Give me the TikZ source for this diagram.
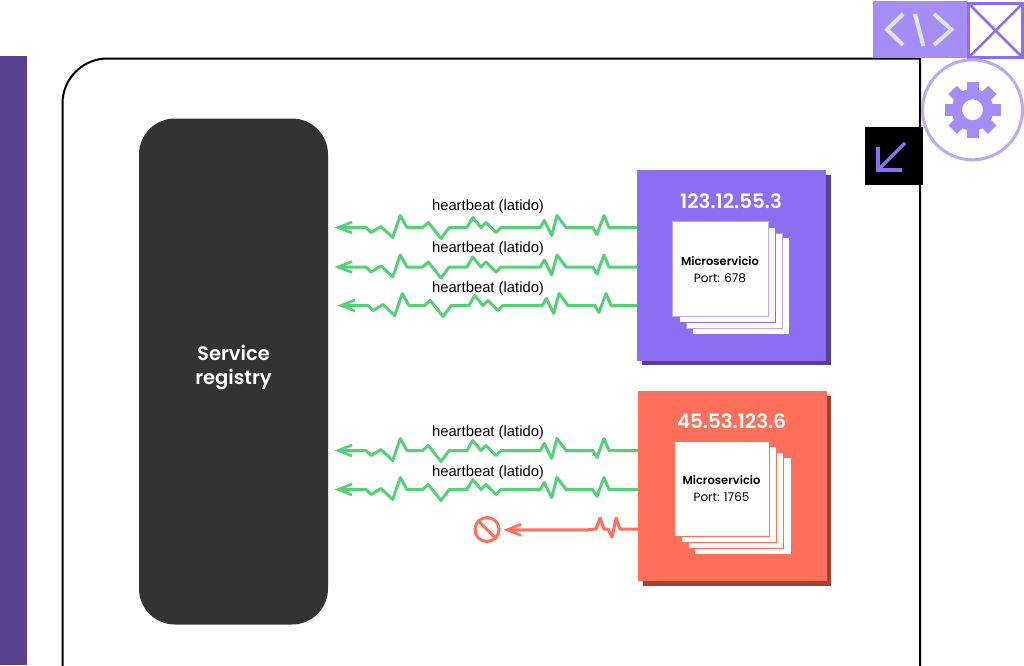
\documentclass[tikz,border=0pt]{standalone}
\usepackage{fontspec}
\setmainfont{Poppins}
\newfontfamily\hbfont{Liberation Sans}
\newfontfamily\semibf{Poppins SemiBold}
\newfontfamily\medf{Poppins Medium}
\usetikzlibrary{arrows.meta}
\definecolor{purpleA}{HTML}{8C6EF2}
\definecolor{purpleB}{HTML}{A58DF5}
\definecolor{purpleC}{HTML}{BBA9F7}
\definecolor{purpleD}{HTML}{56408F}
\definecolor{redA}{HTML}{FF6F59}
\definecolor{redD}{HTML}{9E4435}
\definecolor{greenA}{HTML}{55D077}
\definecolor{darkA}{HTML}{333333}
\definecolor{iconA}{HTML}{E3E1EA}
\tikzset{
  x=1pt,y=-1pt,
  box/.style={anchor=north west,inner sep=0pt,outer sep=0pt,minimum width=#1},
  hb/.style={draw=greenA,line width=3pt,line join=round,-{Straight Barb[length=14pt,width=11pt,line width=2.6pt]}},
  hblabel/.style={font=\hbfont\fontsize{14.8}{16}\selectfont,inner sep=0pt},
  iptext/.style={font=\semibf\fontsize{19.8}{22}\selectfont,text=white,inner sep=0pt},
  mstitle/.style={font=\semibf\fontsize{11.5}{13}\selectfont,text=black,inner sep=0pt},
  msport/.style={font=\fontsize{12}{13}\selectfont,text=black,inner sep=0pt},
  icon/.style={draw=iconA,line width=4pt,line join=miter},
}
\newcommand{\hbwave}[2]{%
  % #1 start coordinate, #2 tip coordinate
  \draw[hb] (#1) -- +(-29,0) -- +(-34,-12) -- +(-41,7) -- +(-45.3,0) -- +(-72,0) -- +(-81,-12)
   -- +(-86.3,8) -- +(-93.7,-7) -- +(-97.7,0) -- +(-137,0) -- +(-142,5) -- +(-152,-5)
   -- +(-157,0) -- +(-165.3,-10) -- +(-171,0) -- +(-188.7,0) -- +(-197,11)
   -- +(-209.7,-5) -- +(-215.3,0) -- +(-231,0) -- +(-237.7,-12) -- +(-245.3,10)
   -- +(-257,-1) -- +(-267,5) -- +(-272,0) -- (#2);
}
\newcommand{\cardrect}[5]{\draw[draw=#5,line width=1pt,fill=white] (#1,#2) rectangle (#3,#4);}
\begin{document}
\begin{tikzpicture}
\useasboundingbox (0,0) rectangle (1024,665);
% side bar and main frame
\fill[purpleD] (0,56) rectangle (27,665);
\draw[black,line width=2pt] (62.5,675) -- (62.5,103.5) arc[start angle=180,end angle=90,radius=45pt] -- (920,58.5) -- (920,675);
\clip (0,0) rectangle (1024,665);
% registry
\node[box,fill=darkA,rounded corners=36pt,minimum width=189pt,minimum height=506pt] (reg) at (139,118.5) {};
\node[font=\semibf\fontsize{19.5}{24}\selectfont,text=white,align=center,inner sep=0pt] (regtext) at (233.5,367.5) {Service\\registry};
% heartbeat coordinates
\coordinate (sa) at (638,227.5);  \coordinate (ta) at (334.5,227.5);
\coordinate (sb) at (638,267);\coordinate (tb) at (334.5,267);
\coordinate (sc) at (640,305.5);  \coordinate (tc) at (337.5,305.5);
\coordinate (sd) at (638,450.5);  \coordinate (td) at (334.5,450.5);
\coordinate (se) at (638,489.5);  \coordinate (te) at (334.5,489.5);
\hbwave{sa}{ta}
\hbwave{sb}{tb}
\hbwave{sc}{tc}
\hbwave{sd}{td}
\hbwave{se}{te}
\node[hblabel] (la) at (488,207) {heartbeat (latido)};
\node[hblabel] (lb) at (488,249) {heartbeat (latido)};
\node[hblabel] (lc) at (488,289) {heartbeat (latido)};
\node[hblabel] (ld) at (488,433) {heartbeat (latido)};
\node[hblabel] (le) at (488,473) {heartbeat (latido)};
% failed heartbeat
\coordinate (sf) at (638,529);
\coordinate (tf) at (503.5,529.8);
\node[draw=redA,line width=3pt,circle,minimum size=24pt,inner sep=0pt] (stop) at (487,529.5) {};
\draw[redA,line width=3pt] (stop.north west) -- (stop.south east);
\draw[redA,line width=3pt,line join=round,-{Straight Barb[length=14pt,width=11pt,line width=2.6pt]}]
  (sf) -- +(-14.7,0) -- +(-18,0) -- +(-22,-11) -- +(-26,8) -- +(-30,0) -- +(-34,0) -- +(-38,-11) -- +(-42,0) -- +(-51,0.8) -- (tf);
% purple machine
\fill[purpleD] (642,175) rectangle (830.7,365);
\node[box,fill=purpleA,minimum width=189pt,minimum height=190.5pt] (hosta) at (637,170) {};
\node[iptext] (ipa) at (731,201.5) {123.12.55.3};
\cardrect{693}{238.5}{788}{333.5}{white}
\cardrect{686.7}{233}{782.3}{328}{purpleC}
\cardrect{679.3}{227}{775}{322.7}{purpleA}
\node[box,fill=white,draw=purpleC,line width=1pt,minimum width=96pt,minimum height=95pt] (msa) at (672,221.3) {};
\node[mstitle] (msat) at (720,261) {Microservicio};
\node[msport] (msap) at (720,278.5) {Port: 678};
% red machine
\fill[redD] (643,396) rectangle (831,586);
\node[box,fill=redA,minimum width=189pt,minimum height=190pt] (hostb) at (637.5,391) {};
\node[iptext] (ipb) at (731.5,421.5) {45.53.123.6};
\cardrect{695}{458}{790}{553.5}{white}
\cardrect{688.5}{452.7}{783.5}{548}{redA}
\cardrect{681}{446.7}{776.5}{542}{redA}
\node[box,fill=white,draw=redA,line width=1pt,minimum width=95.5pt,minimum height=95pt] (msb) at (674,441) {};
\node[mstitle] (msbt) at (721.5,480.5) {Microservicio};
\node[msport] (msbp) at (721.5,497) {Port: 1765};
% code icon
\node[box,fill=purpleB,minimum width=94pt,minimum height=57pt] (code) at (872.7,1) {};
\draw[icon] (903,14) -- (887,29.5) -- (903,45);
\draw[icon] (915,14) -- (923.3,46);
\draw[icon] (934,14) -- (951.5,29.5) -- (934,45);
% image placeholder
\node[box,draw=purpleA,line width=2.5pt,fill=white,minimum width=54pt,minimum height=54pt] (imgp) at (968.5,3.5) {};
\draw[purpleA,line width=2.5pt] (imgp.north west) -- (imgp.south east);
\draw[purpleA,line width=2.5pt] (imgp.north east) -- (imgp.south west);
% gear
\node[draw=purpleC,line width=3pt,circle,fill=white,minimum size=100pt,inner sep=0pt] (gearring) at (972.5,109.8) {};
\begin{scope}[shift={(gearring.center)}]
  \foreach \a in {0,45,...,315}{ \fill[purpleB,rotate=\a] (-6,-28) rectangle (6,-15); }
  \fill[purpleB,even odd rule] (0,0) circle[radius=21pt] (0,0) circle[radius=10.5pt];
\end{scope}
% black arrow tile
\node[box,fill=black,minimum width=58pt,minimum height=58pt] (tile) at (865,127) {};
\draw[purpleA,line width=3.5pt,line cap=butt,line join=miter] (905,143) -- (878,170);
\draw[purpleA,line width=3.5pt,line join=miter] (878,147) -- (878,170) -- (901.5,170);
\end{tikzpicture}
\end{document}
